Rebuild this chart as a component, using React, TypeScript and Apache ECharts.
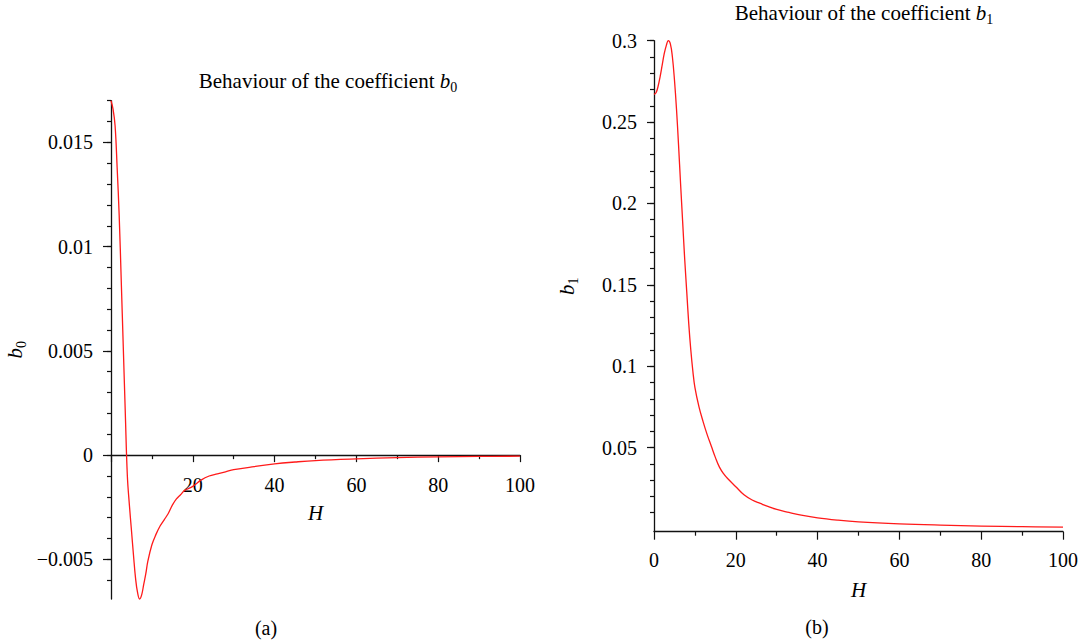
import React, { useEffect, useRef } from "react";
import * as echarts from "echarts";

// ---- data: coefficient b0 vs H ----
const hB0 = [0, 0.5, 1, 1.5, 2, 2.5, 3, 3.5, 4, 4.5, 5, 5.5, 6, 6.5, 7, 7.5, 8, 8.5, 9, 10, 11, 12, 13, 14, 15, 16, 17, 18, 20, 22, 24, 26, 28, 30, 35, 40, 45, 50, 60, 70, 80, 90, 100];
const b0Values = [0.017, 0.0166, 0.0158, 0.0138, 0.0115, 0.0084, 0.0052, 0.002, -0.001, -0.0024, -0.0036, -0.0048, -0.0059, -0.0066, -0.0069, -0.0067, -0.0062, -0.0057, -0.0051, -0.0043, -0.0038, -0.0034, -0.0031, -0.0028, -0.0024, -0.0021, -0.0019, -0.0017, -0.0015, -0.0012, -0.001, -0.0009, -0.0008, -0.0007, -0.00055, -0.00042, -0.00033, -0.00026, -0.00018, -0.00012, -0.00008, -0.00006, -0.00005];

// ---- data: coefficient b1 vs H ----
const hB1 = [0, 0.5, 1, 1.5, 2, 2.5, 3, 3.5, 4, 4.5, 5, 5.5, 6, 6.5, 7, 7.5, 8, 8.5, 9, 9.5, 10, 11, 12, 13, 14, 15, 16, 17, 18, 20, 22, 24, 26, 28, 30, 33, 36, 40, 45, 50, 60, 70, 80, 90, 100];
const b1Values = [0.267, 0.268, 0.272, 0.278, 0.285, 0.292, 0.297, 0.3, 0.298, 0.29, 0.276, 0.258, 0.236, 0.212, 0.189, 0.166, 0.146, 0.126, 0.11, 0.097, 0.087, 0.075, 0.066, 0.058, 0.051, 0.044, 0.038, 0.034, 0.031, 0.026, 0.021, 0.0178, 0.0157, 0.0137, 0.012, 0.0102, 0.0085, 0.0068, 0.0054, 0.0044, 0.0032, 0.0024, 0.0018, 0.0014, 0.0011];

// ---- ticks ----
const b0YMajor = [-0.005, 0, 0.005, 0.01, 0.015];
const b0YLabels = ["\u22120.005", "0", "0.005", "0.01", "0.015"];
const b0YMin = -0.0069;
const b0YMax = 0.017;
const b0YMinorStep = 0.001;

const b1YMajor = [0.05, 0.1, 0.15, 0.2, 0.25, 0.3];
const b1YLabels = ["0.05", "0.1", "0.15", "0.2", "0.25", "0.3"];
const b1YMin = -0.00166;
const b1YMax = 0.3;
const b1YMinorStep = 0.01;

const xMajor = [0, 20, 40, 60, 80, 100];
const xMinor = [10, 30, 50, 70, 90];
const b0XLabels = [20, 40, 60, 80, 100];
const b1XLabels = [0, 20, 40, 60, 80, 100];

const titleA = "Behaviour of the coefficient ";
const titleB = "Behaviour of the coefficient ";

const FONT = "Liberation Serif";
const AXIS_COLOR = "#111";
const LINE_COLOR = "#ff1a1a";

function minorValues(min: number, max: number, step: number): number[] {
  const out: number[] = [];
  const start = Math.ceil(min / step - 1e-9);
  const end = Math.floor(max / step + 1e-9);
  for (let i = start; i <= end; i++) out.push(+(i * step).toFixed(6));
  return out;
}

function labelFor(values: number[], labels: string[]) {
  return (v: number) => {
    let best = 0;
    for (let i = 1; i < values.length; i++) {
      if (Math.abs(values[i] - v) < Math.abs(values[best] - v)) best = i;
    }
    return labels[best];
  };
}

const rich = {
  it: { fontFamily: FONT, fontStyle: "italic", fontWeight: "normal", fontSize: 21, lineHeight: 26, color: "#000" },
  sub: { fontFamily: FONT, fontWeight: "normal", fontSize: 14, lineHeight: 14, verticalAlign: "bottom", color: "#000" },
  n: { fontFamily: FONT, fontWeight: "normal", fontSize: 21, lineHeight: 26, color: "#000" },
};

export default function App() {
  const ref = useRef<HTMLDivElement>(null);

  useEffect(() => {
    if (!ref.current) return;
    const chart = echarts.init(ref.current, undefined, { renderer: "svg" });

    const labelStyle = { fontFamily: FONT, fontSize: 20, color: "#000" };
    const line = { show: true, lineStyle: { color: AXIS_COLOR, width: 1.3 } };

    const gridA = { left: 111, top: 100.7, width: 409, height: 498.3 };
    const gridB = { left: 654, top: 40.7, width: 409, height: 491 };
    // place the left x axis at value 0 of its y range
    const zeroOffsetA = -gridA.height * (0 - b0YMin) / (b0YMax - b0YMin);

    const option: any = {
      animation: false,
      backgroundColor: "#fff",
      title: [
        {
          text: "{n|" + titleA + "}{it|b}{sub|0}",
          left: 323,
          top: 63,
          textAlign: "center",
          textStyle: { fontWeight: "normal", rich },
        },
        {
          text: "{n|" + titleB + "}{it|b}{sub|1}",
          left: 859,
          top: -5,
          textAlign: "center",
          textStyle: { fontWeight: "normal", rich },
        },
      ],
      grid: [
        { ...gridA, outerBoundsMode: "none", containLabel: false },
        { ...gridB, outerBoundsMode: "none", containLabel: false },
      ],
      xAxis: [
        {
          gridIndex: 0, type: "value", min: 0, max: 100, position: "bottom", offset: zeroOffsetA,
          axisLine: { ...line, onZero: false },
          axisTick: { show: true, length: 7, customValues: xMajor, lineStyle: { color: AXIS_COLOR, width: 1.2 } },
          axisLabel: { ...labelStyle, margin: 20, customValues: b0XLabels },
          splitLine: { show: false },
          name: "H", nameLocation: "middle", nameGap: 47,
          nameTextStyle: { fontFamily: FONT, fontStyle: "italic", fontSize: 21, color: "#000" },
        },
        {
          gridIndex: 0, type: "value", min: 0, max: 100, position: "bottom", offset: zeroOffsetA,
          axisLine: { show: false, onZero: false },
          axisTick: { show: true, length: 4, customValues: xMinor, lineStyle: { color: AXIS_COLOR, width: 1.2 } },
          axisLabel: { show: false },
          splitLine: { show: false },
        },
        {
          gridIndex: 1, type: "value", min: 0, max: 100, position: "bottom",
          axisLine: { ...line, onZero: false },
          axisTick: { show: true, length: 8, customValues: xMajor, lineStyle: { color: AXIS_COLOR, width: 1.2 } },
          axisLabel: { ...labelStyle, margin: 18, customValues: b1XLabels },
          splitLine: { show: false },
          name: "H", nameLocation: "middle", nameGap: 48,
          nameTextStyle: { fontFamily: FONT, fontStyle: "italic", fontSize: 21, color: "#000" },
        },
        {
          gridIndex: 1, type: "value", min: 0, max: 100, position: "bottom",
          axisLine: { show: false, onZero: false },
          axisTick: { show: true, length: 4, customValues: xMinor, lineStyle: { color: AXIS_COLOR, width: 1.2 } },
          axisLabel: { show: false },
          splitLine: { show: false },
        },
      ],
      yAxis: [
        {
          gridIndex: 0, type: "value", min: b0YMin, max: b0YMax, position: "left",
          axisLine: { ...line, onZero: false },
          axisTick: { show: true, length: 8, customValues: b0YMajor, lineStyle: { color: AXIS_COLOR, width: 1.2 } },
          axisLabel: { ...labelStyle, margin: 18, customValues: b0YMajor, formatter: labelFor(b0YMajor, b0YLabels) },
          splitLine: { show: false },
          name: "{it|b}{sub|0}", nameLocation: "middle", nameGap: 83, nameRotate: 90,
          nameTextStyle: { rich },
        },
        {
          gridIndex: 0, type: "value", min: b0YMin, max: b0YMax, position: "left",
          axisLine: { show: false, onZero: false },
          axisTick: { show: true, length: 4, customValues: minorValues(b0YMin, b0YMax, b0YMinorStep), lineStyle: { color: AXIS_COLOR, width: 1.2 } },
          axisLabel: { show: false },
          splitLine: { show: false },
        },
        {
          gridIndex: 1, type: "value", min: b1YMin, max: b1YMax, position: "left",
          axisLine: { ...line, onZero: false },
          axisTick: { show: true, length: 7, customValues: b1YMajor, lineStyle: { color: AXIS_COLOR, width: 1.2 } },
          axisLabel: { ...labelStyle, margin: 17, customValues: b1YMajor, formatter: labelFor(b1YMajor, b1YLabels) },
          splitLine: { show: false },
          name: "{it|b}{sub|1}", nameLocation: "middle", nameGap: 74, nameRotate: 90,
          nameTextStyle: { rich },
        },
        {
          gridIndex: 1, type: "value", min: b1YMin, max: b1YMax, position: "left",
          axisLine: { show: false, onZero: false },
          axisTick: { show: true, length: 4, customValues: minorValues(0.01, b1YMax, b1YMinorStep), lineStyle: { color: AXIS_COLOR, width: 1.2 } },
          axisLabel: { show: false },
          splitLine: { show: false },
        },
      ],
      series: [
        {
          type: "line", xAxisIndex: 0, yAxisIndex: 0,
          data: hB0.map((h, i) => [h, b0Values[i]]),
          showSymbol: false, smooth: 0.4, clip: false,
          lineStyle: { color: LINE_COLOR, width: 1.3 },
        },
        {
          type: "line", xAxisIndex: 2, yAxisIndex: 2,
          data: hB1.map((h, i) => [h, b1Values[i]]),
          showSymbol: false, smooth: 0.4, clip: false,
          lineStyle: { color: LINE_COLOR, width: 1.3 },
        },
      ],
      graphic: [
        { type: "text", x: 266, y: 628, style: { text: "(a)", fontFamily: FONT, fontSize: 20, fill: "#000", align: "center", verticalAlign: "middle" } },
        { type: "text", x: 817, y: 627, style: { text: "(b)", fontFamily: FONT, fontSize: 20, fill: "#000", align: "center", verticalAlign: "middle" } },
      ],
    };

    chart.setOption(option);
    return () => chart.dispose();
  }, []);

  return (
    <div
      ref={ref}
      style={{ position: "fixed", left: 0, top: 0, width: 1085, height: 643, background: "#fff" }}
    />
  );
}
